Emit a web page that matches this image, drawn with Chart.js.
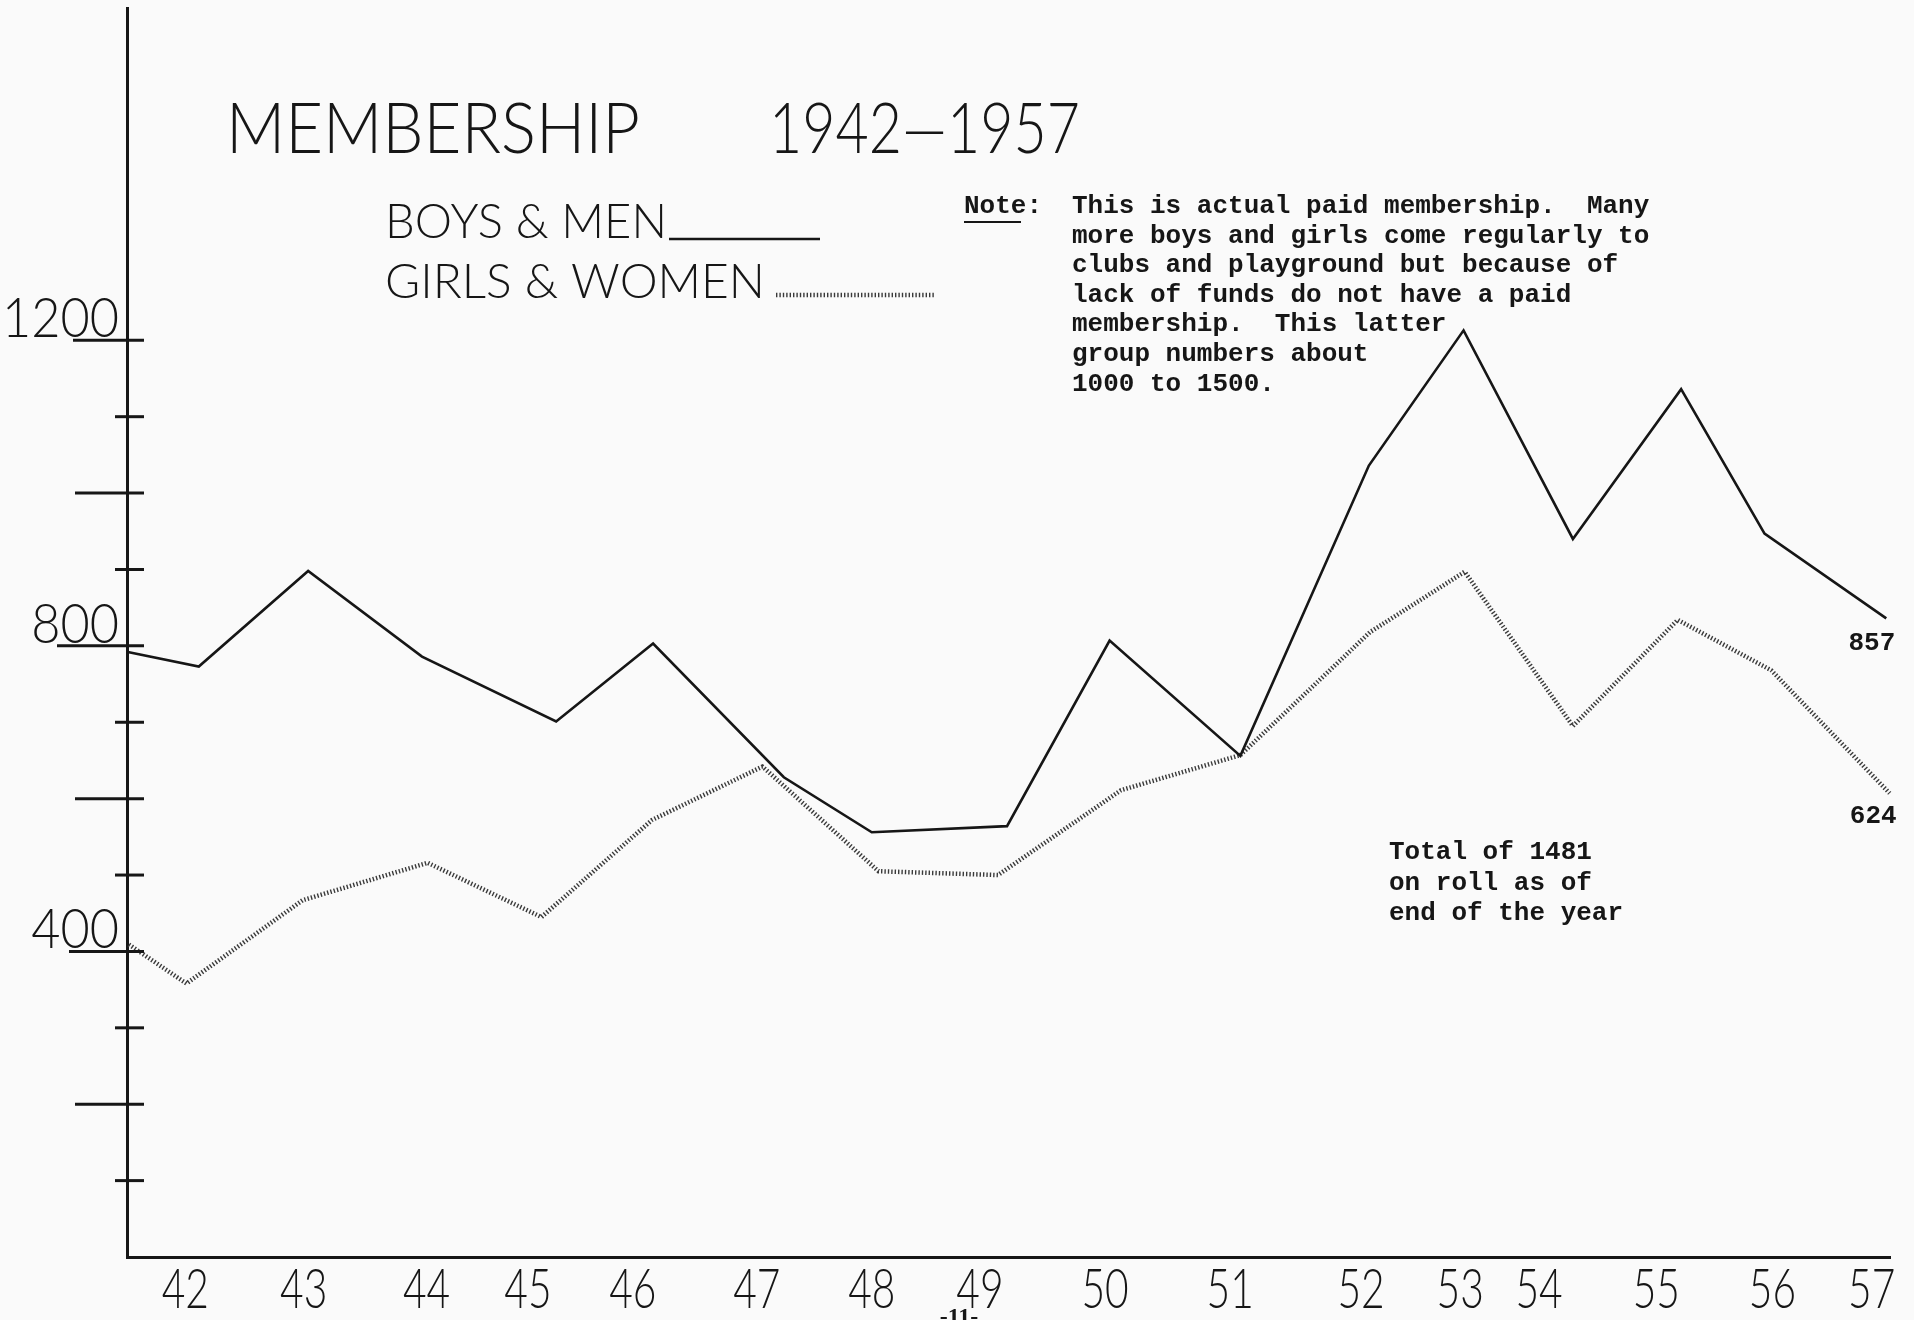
<!DOCTYPE html>
<html>
<head>
<meta charset="utf-8">
<title>Membership 1942-1957</title>
<script src="https://cdn.jsdelivr.net/npm/chart.js@4.4.1/dist/chart.umd.min.js"></script>
<style>
  html, body { margin: 0; padding: 0; background: #fafafa; }
  #chart { display: block; }
</style>
</head>
<body>
<canvas id="chart" width="1914" height="1320"></canvas>
<script>
// years lettered under the axis, and where along the axis they were lettered (year units)
const yearLabels = ['42', '43', '44', '45', '46', '47', '48', '49', '50', '51', '52', '53', '54', '55', '56', '57'];
const yearLabelAt = [42.04, 43.09, 44.18, 45.08, 46.01, 47.11, 48.13, 49.09, 50.20, 51.31, 52.47, 53.35, 54.05, 55.09, 56.12, 57.00];

// plotted points, the first one starts on the vertical axis
const boysX = [41.53, 42.16, 43.13, 44.14, 45.33, 46.19, 47.35, 48.13, 49.33, 50.24, 51.40, 52.54, 53.38, 54.35, 55.31, 56.05, 57.13];
const boysMen = [792, 773, 898, 786, 701, 803, 628, 556, 564, 807, 656, 1036, 1213, 940, 1136, 947, 836];
const girlsX = [41.54, 42.05, 43.08, 44.19, 45.20, 46.18, 47.16, 48.19, 49.25, 50.34, 51.40, 52.55, 53.39, 54.35, 55.28, 56.11, 57.16];
const girlsWomen = [409, 358, 467, 516, 445, 572, 642, 505, 500, 611, 657, 818, 897, 695, 834, 768, 607];

const yTickValues = [100, 200, 300, 400, 500, 600, 700, 800, 900, 1000, 1100, 1200];
const yLabelValues = [400, 800, 1200];
const endLabels = ['857', '624'];

const noteLines = [
  'This is actual paid membership.  Many',
  'more boys and girls come regularly to',
  'clubs and playground but because of',
  'lack of funds do not have a paid',
  'membership.  This latter',
  'group numbers about',
  '1000 to 1500.'
];
const totalLines = ['Total of 1481', 'on roll as of', 'end of the year'];

const ink = '#161616';
const hatch = '#3a3a3a';
const letterFont = 'Lato, "Open Sans", sans-serif';
const typeFont = '"Liberation Mono", "DejaVu Sans Mono", monospace';

// lettering guide style: thin caps squeezed or stretched to a given width
function letter(ctx, text, x, y, size, width, align, weight, squeeze) {
  ctx.save();
  ctx.font = (weight || 300) + ' ' + size + 'px ' + letterFont;
  ctx.textBaseline = 'alphabetic';
  ctx.textAlign = 'left';
  const w0 = ctx.measureText(text).width;
  const sx = width ? width / w0 : (squeeze || 0.76);
  const w = w0 * sx;
  const left = align === 'right' ? x - w : align === 'center' ? x - w / 2 : x;
  ctx.translate(left, y);
  ctx.scale(sx, 1);
  ctx.fillText(text, 0, 0);
  ctx.restore();
}

function typed(ctx, text, x, y, align) {
  ctx.save();
  ctx.font = 'bold 26px ' + typeFont;
  ctx.textBaseline = 'alphabetic';
  ctx.textAlign = align || 'left';
  ctx.fillText(text, x, y);
  ctx.restore();
}

function hatchLine(ctx, x1, y1, x2, y2) {
  ctx.save();
  ctx.strokeStyle = hatch;
  ctx.lineWidth = 4.5;
  ctx.setLineDash([1.4, 2.0]);
  ctx.beginPath();
  ctx.moveTo(x1, y1);
  ctx.lineTo(x2, y2);
  ctx.stroke();
  ctx.restore();
}

const inkPlugin = {
  id: 'ink',
  afterDraw(chart) {
    const ctx = chart.ctx;
    const xs = chart.scales.x;
    const ys = chart.scales.y;
    const axisX = chart.chartArea.left;
    const axisY = chart.chartArea.bottom;
    const underline = { 400: 58, 800: 70, 1200: 54 };
    ctx.save();
    ctx.fillStyle = ink;
    ctx.strokeStyle = ink;

    // tick marks across the vertical axis
    ctx.lineWidth = 3;
    yTickValues.forEach(v => {
      const py = ys.getPixelForValue(v);
      let reach = 12;
      if (underline[v]) reach = underline[v];
      else if (v % 200 === 0) reach = 52;
      ctx.beginPath();
      ctx.moveTo(axisX - reach, py);
      ctx.lineTo(axisX + 17, py);
      ctx.stroke();
    });

    // hundreds lettered on the underlines
    yLabelValues.forEach(v => {
      const py = ys.getPixelForValue(v);
      letter(ctx, String(v), axisX - 8, py - 3, 56, null, 'right', 300, 0.9);
    });

    // years
    yearLabels.forEach((t, i) => {
      letter(ctx, t, xs.getPixelForValue(yearLabelAt[i]), axisY + 51, 55, null, 'center', 300, 0.74);
    });

    // title and key
    letter(ctx, 'MEMBERSHIP', 226, 153, 70, 414);
    letter(ctx, '1942\u20141957', 769, 153, 70, 311);
    letter(ctx, 'BOYS & MEN', 385, 238, 48, 282);
    letter(ctx, 'GIRLS & WOMEN', 385, 298, 48, 380);
    ctx.lineWidth = 2.5;
    ctx.beginPath();
    ctx.moveTo(669, 239);
    ctx.lineTo(820, 239);
    ctx.stroke();
    hatchLine(ctx, 776, 295, 934, 295);

    // typed note
    typed(ctx, 'Note:', 964, 213);
    ctx.lineWidth = 2;
    ctx.beginPath();
    ctx.moveTo(964, 222);
    ctx.lineTo(1021, 222);
    ctx.stroke();
    noteLines.forEach((t, i) => typed(ctx, t, 1072, 213 + i * 29.6));
    totalLines.forEach((t, i) => typed(ctx, t, 1389, 859 + i * 30.5));

    // end values beside the last points
    const bEnd = boysMen.length - 1;
    const gEnd = girlsWomen.length - 1;
    typed(ctx, endLabels[0], xs.getPixelForValue(boysX[bEnd]) + 9, ys.getPixelForValue(boysMen[bEnd]) + 32, 'right');
    typed(ctx, endLabels[1], xs.getPixelForValue(girlsX[gEnd]) + 7, ys.getPixelForValue(girlsWomen[gEnd]) + 30, 'right');

    // page number
    ctx.font = 'bold 24px "Liberation Serif", serif';
    ctx.textAlign = 'center';
    ctx.fillText('-11-', 959, 1324);
    ctx.restore();
  }
};

new Chart(document.getElementById('chart'), {
  type: 'line',
  data: {
    datasets: [
      {
        label: 'BOYS & MEN',
        data: boysX.map((x, i) => ({ x: x, y: boysMen[i] })),
        borderColor: ink,
        borderWidth: 2.6,
        borderJoinStyle: 'miter',
        pointRadius: 0,
        tension: 0,
        clip: false
      },
      {
        label: 'GIRLS & WOMEN',
        data: girlsX.map((x, i) => ({ x: x, y: girlsWomen[i] })),
        borderColor: hatch,
        borderWidth: 4.5,
        borderDash: [1.4, 2.0],
        pointRadius: 0,
        tension: 0,
        clip: false
      }
    ]
  },
  options: {
    responsive: false,
    animation: false,
    devicePixelRatio: 1,
    layout: { padding: { top: 8, right: 24, left: 0, bottom: 0 } },
    plugins: {
      legend: { display: false },
      tooltip: { enabled: false }
    },
    scales: {
      x: {
        type: 'linear',
        min: 41.523,
        max: 57.163,
        grid: { display: false, drawTicks: false },
        border: { display: true, color: ink, width: 3 },
        ticks: { display: false },
        afterFit: s => { s.height = 63; }
      },
      y: {
        type: 'linear',
        min: 0,
        max: 1635,
        grid: { display: false, drawTicks: false },
        border: { display: true, color: ink, width: 3 },
        ticks: { display: false },
        afterFit: s => { s.width = 127; }
      }
    }
  },
  plugins: [inkPlugin]
});
</script>
</body>
</html>
